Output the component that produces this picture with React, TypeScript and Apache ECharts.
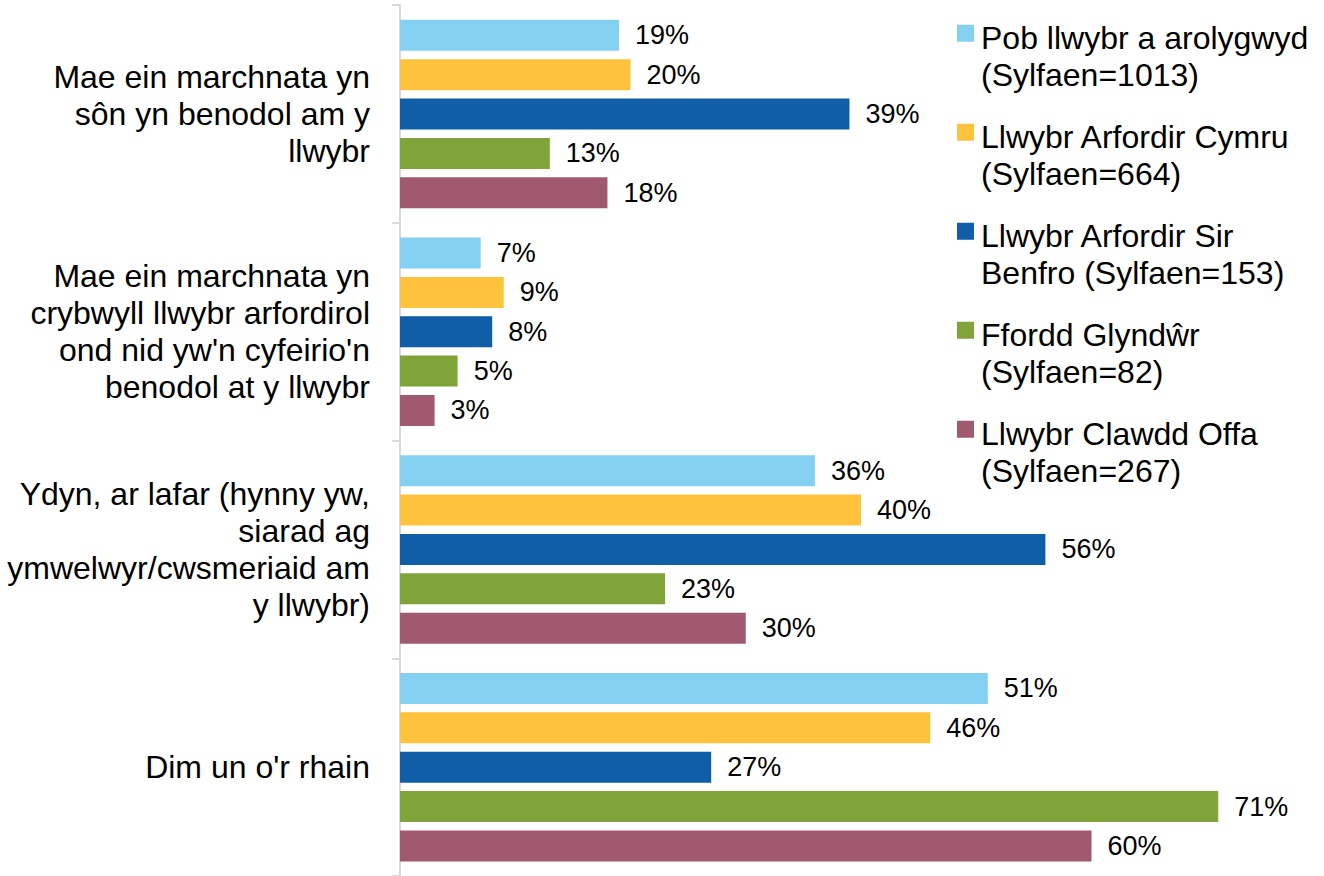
import React, { useEffect, useRef } from "react";
import * as echarts from "echarts";

const categories = [
  "Mae ein marchnata yn\nsôn yn benodol am y\nllwybr",
  "Mae ein marchnata yn\ncrybwyll llwybr arfordirol\nond nid yw'n cyfeirio'n\nbenodol at y llwybr",
  "Ydyn, ar lafar (hynny yw,\nsiarad ag\nymwelwyr/cwsmeriaid am\ny llwybr)",
  "Dim un o'r rhain",
];

const seriesNames = [
  "Pob llwybr a arolygwyd\n(Sylfaen=1013)",
  "Llwybr Arfordir Cymru\n(Sylfaen=664)",
  "Llwybr Arfordir Sir\nBenfro (Sylfaen=153)",
  "Ffordd Glyndŵr\n(Sylfaen=82)",
  "Llwybr Clawdd Offa\n(Sylfaen=267)",
];

const pobLlwybr = [19, 7, 36, 51];
const arfordirCymru = [20, 9, 40, 46];
const arfordirSirBenfro = [39, 8, 56, 27];
const ffyrddGlyndwr = [13, 5, 23, 71];
const clawddOffa = [18, 3, 30, 60];

const seriesValues = [pobLlwybr, arfordirCymru, arfordirSirBenfro, ffyrddGlyndwr, clawddOffa];
const colors = ["#84D0F0", "#FEC23C", "#115EA8", "#80A439", "#A0596E"];

const FONT = "'Liberation Sans', Arial, sans-serif";

export default function App() {
  const ref = useRef<HTMLDivElement>(null);

  useEffect(() => {
    if (!ref.current) return;
    const chart = echarts.init(ref.current, null, { renderer: "svg" });
    chart.setOption({
      animation: false,
      textStyle: { fontFamily: FONT },
      grid: { left: 400, width: 922, top: 5.2, height: 875.3, containLabel: false },
      legend: {
        orient: "vertical",
        left: 957,
        top: 19.5,
        padding: 0,
        itemGap: 25,
        itemWidth: 17,
        itemHeight: 74,
        icon: "path://M0,10.5 L17,10.5 L17,27.5 L0,27.5 Z M17,74",
        textStyle: {
          fontSize: 32,
          lineHeight: 37,
          color: "#000",
          fontFamily: FONT,
          padding: [0, 0, 0, 2],
        },
        data: seriesNames,
      },
      xAxis: {
        type: "value",
        min: 0,
        max: 80,
        show: false,
      },
      yAxis: {
        type: "category",
        inverse: true,
        data: categories,
        axisLine: { show: true, lineStyle: { color: "#D9D9D9", width: 2 } },
        axisTick: { show: true, length: 8, lineStyle: { color: "#D9D9D9", width: 2 } },
        axisLabel: {
          margin: 30,
          fontSize: 32,
          lineHeight: 37,
          color: "#000",
          align: "right",
          fontFamily: FONT,
        },
      },
      series: seriesNames.map((name, i) => ({
        name,
        type: "bar",
        data: seriesValues[i],
        barWidth: 31,
        barGap: "27%",
        itemStyle: { color: colors[i] },
        label: {
          show: true,
          position: "right",
          distance: 16,
          formatter: "{c}%",
          fontSize: 27,
          color: "#000",
          fontFamily: FONT,
        },
      })),
    });
    return () => chart.dispose();
  }, []);

  return (
    <div
      ref={ref}
      style={{ position: "absolute", left: 0, top: 0, width: 1324, height: 876, background: "#fff" }}
    />
  );
}
